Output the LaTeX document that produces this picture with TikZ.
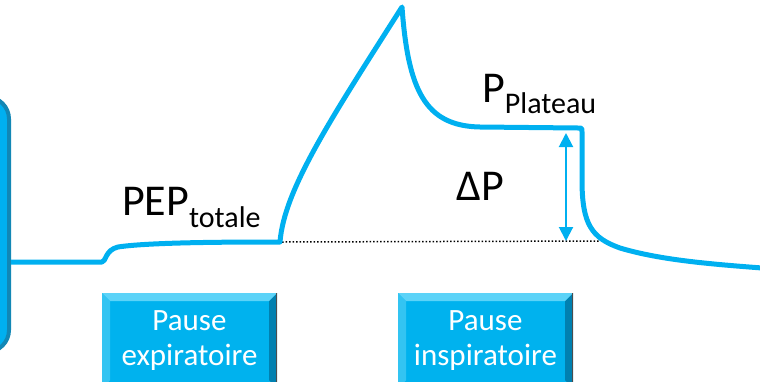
\documentclass[tikz,border=0pt]{standalone}
\usepackage{fontspec}
\setmainfont{Carlito}
\usetikzlibrary{arrows.meta}
\definecolor{cy}{HTML}{00B0F0}
\definecolor{cyb}{HTML}{1287B5}
\definecolor{bvmid}{HTML}{00B2EE}
\definecolor{bvtop}{HTML}{5CD3F8}
\definecolor{bvleft}{HTML}{33C4F2}
\definecolor{bvright}{HTML}{0080B0}
\definecolor{bvbot}{HTML}{0093C4}
\tikzset{
  pausebox/.style={anchor=north west, inner sep=0, minimum width=175pt, minimum height=95pt,
    path picture={
      \fill[bvmid] (path picture bounding box.north west) rectangle (path picture bounding box.south east);
      \fill[bvtop] (path picture bounding box.north west) -- (path picture bounding box.north east)
        -- ([shift={(-8,8)}]path picture bounding box.north east) -- ([shift={(8,8)}]path picture bounding box.north west) -- cycle;
      \fill[bvleft] (path picture bounding box.north west) -- ([shift={(8,8)}]path picture bounding box.north west)
        -- ([shift={(8,-8)}]path picture bounding box.south west) -- (path picture bounding box.south west) -- cycle;
      \fill[bvright] (path picture bounding box.north east) -- ([shift={(-8,8)}]path picture bounding box.north east)
        -- ([shift={(-8,-8)}]path picture bounding box.south east) -- (path picture bounding box.south east) -- cycle;
      \fill[black!70] ([shift={(-1.5,0)}]path picture bounding box.north east) rectangle (path picture bounding box.south east);
    }},
  boxtext/.style={anchor=base, inner sep=0, text=white, align=center, font=\fontsize{31}{35}\selectfont},
  biglabel/.style={anchor=base west, inner sep=0, font=\fontsize{44}{50}\selectfont},
  curve/.style={cy, line width=5pt, line join=round},
  dp/.style={cy, line width=2pt, {Triangle[length=14pt,width=14pt]}-{Triangle[length=14pt,width=14pt]}}
}
\newcommand\subtxt[2]{\raisebox{-#1pt}{\fontsize{30}{31}\selectfont #2}}
\begin{document}
\begin{tikzpicture}[x=1pt,y=-1pt]
\useasboundingbox (0,0) rectangle (760,381);
\clip (0,0) rectangle (760,381);
% left box
\node (lb) [draw=cyb, fill=cy, line width=4pt, rounded corners=22pt, inner sep=0, minimum width=90pt, minimum height=255pt, anchor=north east] at (11,95) {};
% baseline dotted
\coordinate (d1) at (282,242);
\coordinate (d2) at (600,241);
\draw[dotted, line width=1.5pt] (d1) -- (d2);
% pressure curve
\draw[curve] (lb.east |- 0,262) -- (102,262)
  .. controls (106,262) and (105,250) .. (118,247)
  .. controls (150,242) and (240,242) .. (280,242)
  .. controls (284,190) and (330,120) .. (402,7)
  .. controls (408,90) and (425,126) .. (480,127)
  -- (578,128) .. controls (582,128) .. (582,132)
  -- (582,180)
  .. controls (582,225) and (592,238) .. (620,248)
  .. controls (660,260) and (710,264) .. (762,268);
% delta P arrow
\coordinate (a1) at (566,133);
\coordinate (a2) at (566,241);
\draw[dp] (a1) -- (a2);
% labels
\node (pep) [biglabel] at (122,215) {PEP\subtxt{12}{totale}};
\node (ppl) [biglabel] at (482,102) {P\subtxt{11}{Plateau}};
\node (dlt) [biglabel] at (456,200) {ΔP};
% pause boxes
\node (pe) [pausebox] at (102,293) {};
\node (pi) [pausebox] at (398,293) {};
\node (pet) [boxtext] at (189.5,365) {Pause\\expiratoire};
\node (pit) [boxtext] at (485.5,365) {Pause\\inspiratoire};
\end{tikzpicture}
\end{document}
